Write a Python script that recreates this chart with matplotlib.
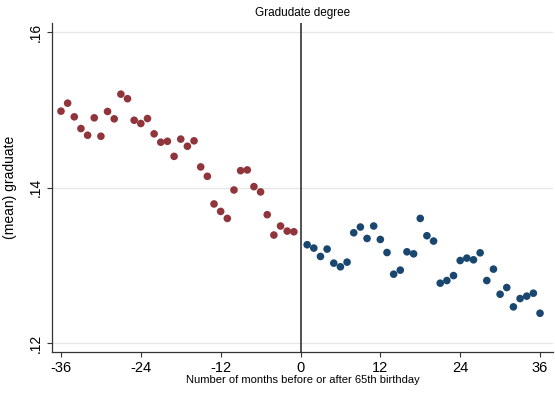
import matplotlib
matplotlib.use("Agg")
import matplotlib.pyplot as plt
import numpy as np

plt.rcParams['font.family'] = ['Liberation Sans', 'DejaVu Sans']

# Months relative to 65th birthday
months_before = list(range(-36, 0))
months_after = list(range(1, 37))

# Mean share with a graduate degree, by month
grad_before = [
    0.14985, 0.15088, 0.14912, 0.14761, 0.14675, 0.14899, 0.14662, 0.14981,
    0.14886, 0.15204, 0.15145, 0.14868, 0.14826, 0.14890, 0.14693, 0.14585,
    0.14597, 0.14403, 0.14625, 0.14533, 0.14603, 0.14267, 0.14146, 0.13790,
    0.13694, 0.13604, 0.13970, 0.14219, 0.14228, 0.14013, 0.13945, 0.13652,
    0.13390, 0.13506, 0.13441, 0.13432,
]
grad_after = [
    0.13265, 0.13222, 0.13114, 0.13209, 0.13028, 0.12981, 0.13041, 0.13419,
    0.13493, 0.13346, 0.13506, 0.13333, 0.13165, 0.12886, 0.12938, 0.13174,
    0.13148, 0.13604, 0.13381, 0.13312, 0.12770, 0.12804, 0.12868, 0.13062,
    0.13093, 0.13071, 0.13161, 0.12804, 0.12951, 0.12628, 0.12714, 0.12465,
    0.12572, 0.12603, 0.12641, 0.12383,
]

x_ticks = [-36, -24, -12, 0, 12, 24, 36]
y_ticks = [0.12, 0.14, 0.16]
y_tick_labels = [".12", ".14", ".16"]

maroon = "#90353B"
navy = "#1A476F"

W, H = 555, 399
fig = plt.figure(figsize=(W / 100, H / 100), dpi=100)
ax = fig.add_axes([52 / W, (H - 352) / H, (553 - 52) / W, (352 - 23) / H])

ax.set_xlim(-37.35, 37.95)
ax.set_ylim(0.11884, 0.16120)

ax.set_yticks(y_ticks)
ax.set_yticklabels(y_tick_labels, rotation=90, va="center", fontsize=10)
ax.set_xticks(x_ticks)
ax.set_xticklabels([str(t) for t in x_ticks], fontsize=10.5)
ax.tick_params(axis="both", direction="out", length=3.8, width=0.8, color="#333333", pad=3)

ax.grid(axis="y", color="#e6e6e6", linewidth=0.9)
ax.set_axisbelow(True)

for side in ("top", "right"):
    ax.spines[side].set_visible(False)
for side in ("left", "bottom"):
    ax.spines[side].set_color("#333333")
    ax.spines[side].set_linewidth(0.9)

ax.axvline(0, color="#222222", linewidth=1.1, zorder=2)

ax.scatter(months_before, grad_before, s=30, color=maroon, edgecolors="none", zorder=3)
ax.scatter(months_after, grad_after, s=30, color=navy, edgecolors="none", zorder=3)

ax.set_ylabel("(mean) graduate", fontsize=10, labelpad=8)
ax.set_xlabel("Number of months before or after 65th birthday", fontsize=8, labelpad=0)
ax.set_title("Gradudate degree", fontsize=8.5, pad=5)

fig.savefig("out.png", dpi=100)
